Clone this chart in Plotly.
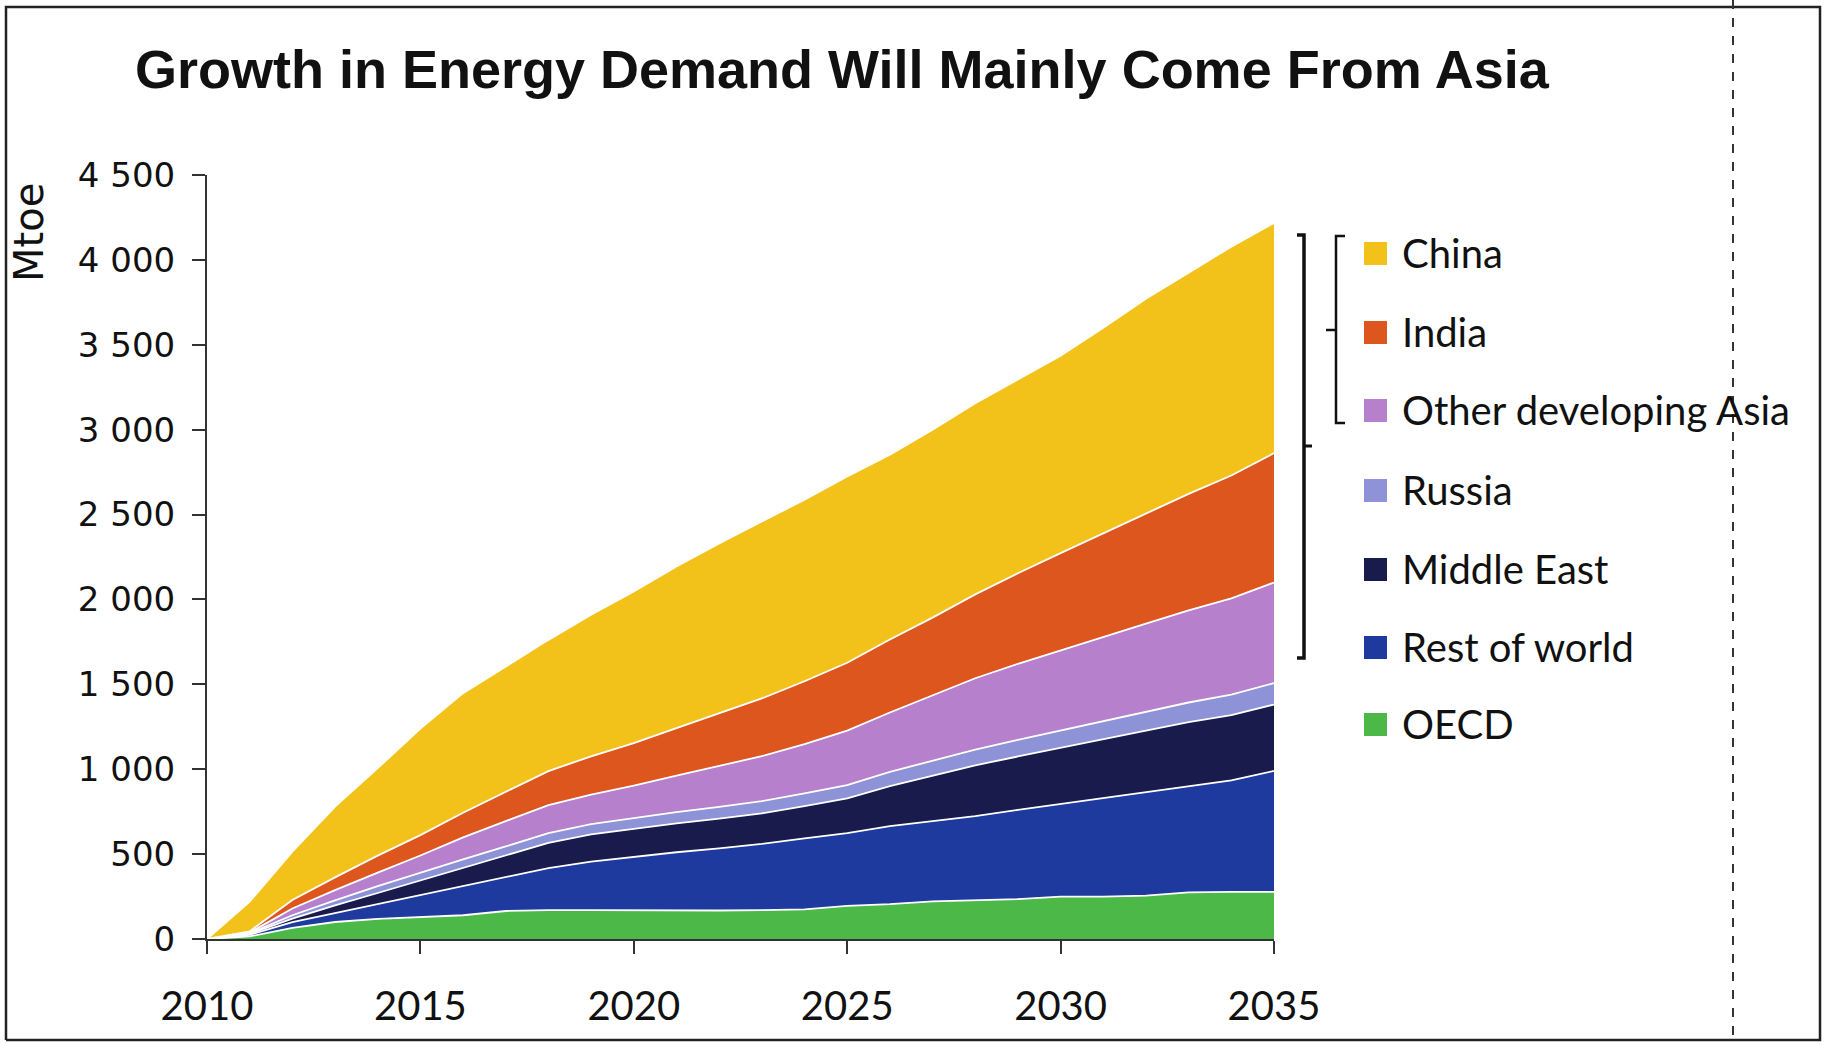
import plotly.graph_objects as go

# ---------------- data (Mtoe, incremental demand vs 2010) ----------------
years = list(range(2010, 2036))
oecd = [0, 15, 65, 100, 118, 130, 140, 165, 170, 170, 168, 168, 168, 170, 175, 195, 205, 222, 228, 235, 250, 250, 255, 275, 277, 278]
rest_of_world = [0, 10, 35, 53, 88, 129, 172, 200, 248, 286, 317, 343, 366, 390, 418, 428, 460, 473, 496, 525, 544, 579, 609, 624, 657, 712]
middle_east = [0, 5, 20, 45, 65, 85, 105, 125, 148, 160, 165, 170, 175, 180, 190, 205, 235, 265, 299, 315, 333, 349, 364, 378, 385, 391]
russia = [0, 3, 20, 30, 40, 48, 52, 55, 58, 60, 63, 66, 69, 72, 75, 79, 84, 88, 93, 98, 102, 106, 111, 116, 120, 126]
other_dev_asia = [0, 5, 40, 60, 80, 100, 130, 150, 165, 175, 191, 215, 240, 265, 290, 320, 350, 385, 420, 448, 472, 496, 519, 542, 567, 593]
india = [0, 7, 50, 75, 100, 120, 145, 170, 200, 225, 250, 280, 310, 340, 370, 400, 430, 460, 494, 533, 572, 610, 649, 687, 724, 762]
china = [0, 175, 285, 417, 515, 628, 704, 740, 773, 834, 893, 952, 1002, 1043, 1069, 1098, 1089, 1107, 1126, 1141, 1162, 1210, 1264, 1303, 1348, 1356]

# stacking order: bottom -> top
series_names = ["OECD", "Rest of world", "Middle East", "Russia", "Other developing Asia", "India", "China"]
series_values = [oecd, rest_of_world, middle_east, russia, other_dev_asia, india, china]
series_colors = ["#4CB847", "#1E3A9E", "#181B4B", "#8E92D6", "#B680CC", "#DC561E", "#F3C21A"]

x_ticks = [2010, 2015, 2020, 2025, 2030, 2035]
y_ticks = [0, 500, 1000, 1500, 2000, 2500, 3000, 3500, 4000, 4500]

title_text = "Growth in Energy Demand Will Mainly Come From Asia"
y_title = "Mtoe"

# ---------------- layout geometry (pixels) ----------------
W, H = 1827, 1045
PX0, PX1 = 207, 1274      # plot area left/right
PY0, PY1 = 939, 175       # plot area bottom/top


def px(x):
    return (x - PX0) / (PX1 - PX0)


def py(y):
    return (PY0 - y) / (PY0 - PY1)


fig = go.Figure()
for name, vals, col in zip(series_names, series_values, series_colors):
    fig.add_trace(go.Scatter(
        x=years, y=vals, name=name, mode="lines",
        stackgroup="one", fillcolor=col,
        line=dict(color="white", width=1.8),
        showlegend=False,
    ))

shapes = []
annotations = []

# title
annotations.append(dict(
    text="<b>" + title_text + "</b>", x=px(842), y=py(69), xref="paper", yref="paper",
    xanchor="center", yanchor="middle", showarrow=False,
    font=dict(family="Liberation Sans, Arial, sans-serif", size=54, color="#111111"),
))

# y-axis title
annotations.append(dict(
    text=y_title, x=px(29), y=py(233), xref="paper", yref="paper",
    xanchor="center", yanchor="middle", showarrow=False, textangle=-90,
    font=dict(family="DejaVu Sans, sans-serif", size=40, color="#111111"),
))

# custom legend (top to bottom: China ... OECD)
row_y = [253, 332, 410, 490, 569, 647, 724]
for i, (name, col) in enumerate(zip(series_names[::-1], series_colors[::-1])):
    cy = row_y[i]
    shapes.append(dict(type="rect", xref="paper", yref="paper",
                       x0=px(1364), x1=px(1387), y0=py(cy - 11), y1=py(cy + 12),
                       fillcolor=col, line=dict(width=0)))
    annotations.append(dict(
        text=name, x=px(1400), y=py(cy), xref="paper", yref="paper",
        xanchor="left", yanchor="middle", showarrow=False,
        font=dict(family="Lato, sans-serif", size=40, color="#111111"),
    ))


def path(points):
    return "M " + " L ".join(f"{px(a)},{py(b)}" for a, b in points)


# outer bracket
shapes.append(dict(type="path", xref="paper", yref="paper",
                   path=path([(1297, 235), (1304, 235), (1304, 658), (1297, 658)]),
                   line=dict(color="#111111", width=3.5)))
shapes.append(dict(type="line", xref="paper", yref="paper",
                   x0=px(1304), x1=px(1312), y0=py(446), y1=py(446),
                   line=dict(color="#111111", width=3)))
# inner bracket
shapes.append(dict(type="path", xref="paper", yref="paper",
                   path=path([(1345, 236), (1336, 236), (1336, 423), (1345, 423)]),
                   line=dict(color="#111111", width=2.5)))
shapes.append(dict(type="line", xref="paper", yref="paper",
                   x0=px(1326), x1=px(1336), y0=py(330), y1=py(330),
                   line=dict(color="#111111", width=2.5)))

# scanned frame
shapes.append(dict(type="path", xref="paper", yref="paper",
                   path=path([(6, 1040), (6, 7), (1820, 7), (1820, 1040), (6, 1040)]),
                   line=dict(color="#222222", width=2.5)))
shapes.append(dict(type="line", xref="paper", yref="paper",
                   x0=px(1733), x1=px(1733), y0=py(0), y1=py(1038),
                   line=dict(color="#333333", width=2, dash="dash")))

fig.update_layout(
    width=W, height=H, autosize=False,
    margin=dict(l=PX0, r=W - PX1, t=PY1, b=H - PY0, pad=0),
    paper_bgcolor="white", plot_bgcolor="white",
    separators=". ",
    shapes=shapes, annotations=annotations,
    xaxis=dict(
        range=[2010, 2035], tickvals=x_ticks, ticks="outside", ticklen=13, tickwidth=2,
        tickcolor="#333333", showline=True, linecolor="#333333", linewidth=2,
        showgrid=False, zeroline=False, ticklabelstandoff=18,
        tickfont=dict(family="Lato, sans-serif", size=40, color="#111111"),
    ),
    yaxis=dict(
        range=[0, 4500], tickvals=y_ticks, tickformat=",", ticks="outside", ticklen=13,
        tickwidth=2, tickcolor="#333333", showline=True, linecolor="#333333", linewidth=2,
        showgrid=False, zeroline=False, ticklabelstandoff=10,
        tickfont=dict(family="DejaVu Sans, sans-serif", size=34, color="#111111"),
    ),
)

fig.write_html("out.html", config={"displayModeBar": False},
               post_script="document.body.style.margin='0';document.body.style.overflow='hidden';")
